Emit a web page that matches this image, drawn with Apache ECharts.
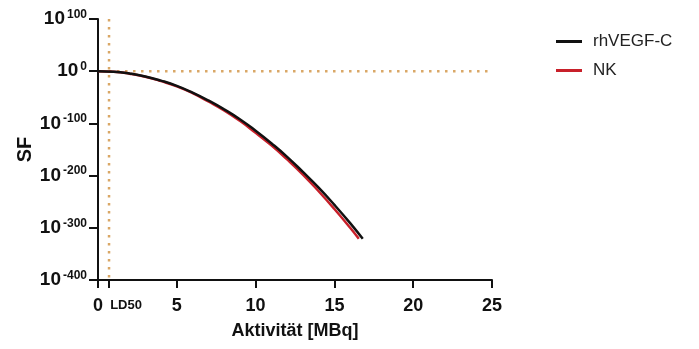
<!DOCTYPE html>
<html><head><meta charset="utf-8">
<script src="https://cdn.jsdelivr.net/npm/echarts@6/dist/echarts.min.js"></script>
<style>html,body{margin:0;padding:0;background:#fff}#c{width:699px;height:349px}</style>
</head><body><div id="c"></div>
<script>
// Activity (MBq) and log10(SF)
const rhX = [0, 1, 2, 3, 4, 5, 6, 7, 8, 9, 10, 11, 12, 13, 14, 15, 16, 16.8];
const rhY = [0, -1, -4.5, -10, -18, -28, -41, -56, -73, -92, -114, -138, -164, -193, -223, -256, -291, -321];
const nkX = [0, 1, 2, 3, 4, 5, 6, 7, 8, 9, 10, 11, 12, 13, 14, 15, 16, 16.55];
const nkY = [0, -1, -4.7, -10.5, -19, -29, -42, -58, -75, -95, -118, -142, -169, -198, -230, -264, -300, -321];
const ld50 = 0.7;
const xTicks = [0, 5, 10, 15, 20, 25];
const yTicks = [100, 0, -100, -200, -300, -400];
const seriesNames = ['rhVEGF-C', 'NK'];

const chart = echarts.init(document.getElementById('c'));
const font = 'Liberation Sans, Arial, sans-serif';
const zip = (xs, ys) => xs.map((x, i) => [x, ys[i]]);

chart.setOption({
  animation: false,
  grid: { left: 98, right: 207, top: 19, bottom: 69 },
  legend: {
    orient: 'vertical', left: 551, top: 28, itemGap: 12,
    itemWidth: 26, itemHeight: 3, icon: 'rect',
    textStyle: { fontFamily: font, fontSize: 17, color: '#222', padding: [0, 0, 0, 6] },
    data: seriesNames
  },
  xAxis: [{
    type: 'value', min: 0, max: 25, interval: 5,
    name: 'Aktivität [MBq]', nameLocation: 'middle', nameGap: 42, nameMoveOverlap: false,
    nameTextStyle: { fontFamily: font, fontSize: 18, fontWeight: 'bold', color: '#111' },
    splitLine: { show: false },
    axisLine: { onZero: false, lineStyle: { color: '#111', width: 2 } },
    axisTick: { length: 8, lineStyle: { color: '#111', width: 2 } },
    axisLabel: {
      margin: 17, showMinLabel: true, showMaxLabel: true,
      fontFamily: font, fontSize: 18, fontWeight: 'bold', color: '#111'
    }
  }, {
    type: 'value', min: 0, max: 25, position: 'bottom',
    splitLine: { show: false },
    axisLine: { show: false, onZero: false },
    axisTick: { show: true, customValues: [ld50], length: 8, lineStyle: { color: '#111', width: 2 } },
    axisLabel: {
      customValues: [ld50], margin: 19, showMinLabel: true,
      formatter: () => 'LD50',
      fontFamily: font, fontSize: 13, fontWeight: 'bold', color: '#111', padding: [0, 0, 0, 34]
    }
  }],
  yAxis: {
    type: 'value', min: -400, max: 100, interval: 100,
    name: 'SF', nameLocation: 'middle', nameGap: 63, nameRotate: 90, nameMoveOverlap: false,
    nameTextStyle: { fontFamily: font, fontSize: 20, fontWeight: 'bold', color: '#111' },
    splitLine: { show: false },
    axisLine: { show: true, lineStyle: { color: '#111', width: 2 } },
    axisTick: { show: true, length: 9, lineStyle: { color: '#111', width: 2 } },
    axisLabel: {
      margin: 11, showMinLabel: true, showMaxLabel: true,
      formatter: v => '{b|10}{e|' + (v < 0 ? '-' + (-v) : v) + '}',
      rich: {
        b: { fontFamily: font, fontSize: 19, fontWeight: 'bold', color: '#111' },
        e: { fontFamily: font, fontSize: 12, fontWeight: 'bold', color: '#111', verticalAlign: 'top', padding: [0, 0, 9, 2] }
      }
    }
  },
  series: [
    {
      name: 'LD50-line', type: 'line', symbol: 'none', silent: true, z: 1,
      data: [[ld50, 100], [ld50, -400]],
      lineStyle: { color: '#d9a766', width: 2.5, type: [2.5, 5.5] }
    },
    {
      name: 'SF1-line', type: 'line', symbol: 'none', silent: true, z: 1,
      data: [[ld50, 0], [25, 0]],
      lineStyle: { color: '#d9a766', width: 2.5, type: [2.5, 5.5] }
    },
    {
      name: seriesNames[1], type: 'line', symbol: 'none', smooth: true, z: 3,
      data: zip(nkX, nkY), color: '#c8202a',
      lineStyle: { color: '#c8202a', width: 2.5 }
    },
    {
      name: seriesNames[0], type: 'line', symbol: 'none', smooth: true, z: 4,
      data: zip(rhX, rhY), color: '#111',
      lineStyle: { color: '#111', width: 2.5 }
    }
  ]
});
</script></body></html>
